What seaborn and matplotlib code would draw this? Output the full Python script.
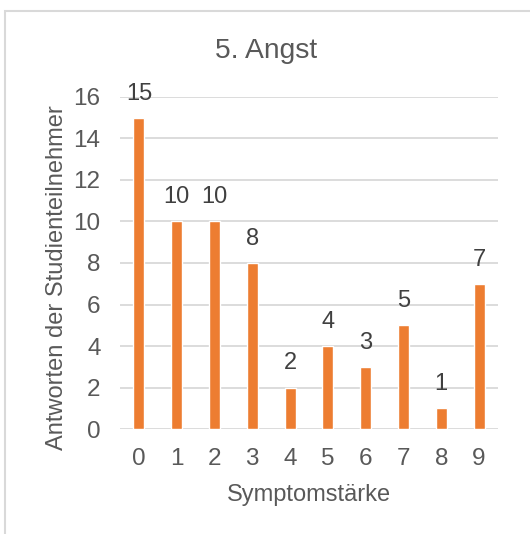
import matplotlib
matplotlib.use("Agg")
import matplotlib.pyplot as plt
from matplotlib.patches import Rectangle
import seaborn as sns
import pandas as pd

# Symptom severity scale and number of participant answers per level
staerke = ["0", "1", "2", "3", "4", "5", "6", "7", "8", "9"]
antworten = [15, 10, 10, 8, 2, 4, 3, 5, 1, 7]
y_ticks = [0, 2, 4, 6, 8, 10, 12, 14, 16]

df = pd.DataFrame({"Symptomstärke": staerke, "Antworten": antworten})

sns.set_theme(style="white")
plt.rcParams["font.family"] = ["Liberation Sans", "DejaVu Sans"]

text_col = "#595959"
grid_col = "#D9D9D9"
bar_col = "#ED7D31"

fig = plt.figure(figsize=(5.30, 5.34), dpi=100)
fig.patch.set_facecolor("white")
ax = fig.add_axes([0.2264, 0.1966, 0.7132, 0.6218])

sns.barplot(data=df, x="Symptomstärke", y="Antworten", color=bar_col,
            width=0.29, saturation=1, ax=ax, zorder=3)

ax.set_ylim(0, 16)
ax.set_xlim(-0.5, 9.5)
ax.set_yticks(y_ticks)
ax.yaxis.grid(True, color=grid_col, linewidth=1.3, zorder=0)
ax.xaxis.grid(False)
for s in ax.spines.values():
    s.set_visible(False)
ax.tick_params(axis="both", length=0, labelsize=17.5, colors=text_col)
ax.tick_params(axis="y", pad=14)
ax.tick_params(axis="x", pad=14)

ax.set_xlabel("Symptomstärke", fontsize=17, color=text_col, labelpad=10)
ax.set_ylabel("Antworten der Studienteilnehmer", fontsize=17, color=text_col)
ax.yaxis.set_label_coords(-0.138, 0.455)

for i, v in enumerate(antworten):
    ax.annotate(str(v), (i, v), xytext=(0, 9.5), textcoords="offset points",
                ha="center", va="bottom", fontsize=17, color="#404040")

fig.text(0.502, 0.9054, "5. Angst", ha="center", va="center", fontsize=20.3, color=text_col)

# light frame around the chart area
fig.patches.append(Rectangle((5 / 530, -0.1), 1.2, 1.1 - 11 / 534,
                             transform=fig.transFigure, fill=False,
                             edgecolor=grid_col, linewidth=1.5))

fig.savefig("out.png", dpi=100)
